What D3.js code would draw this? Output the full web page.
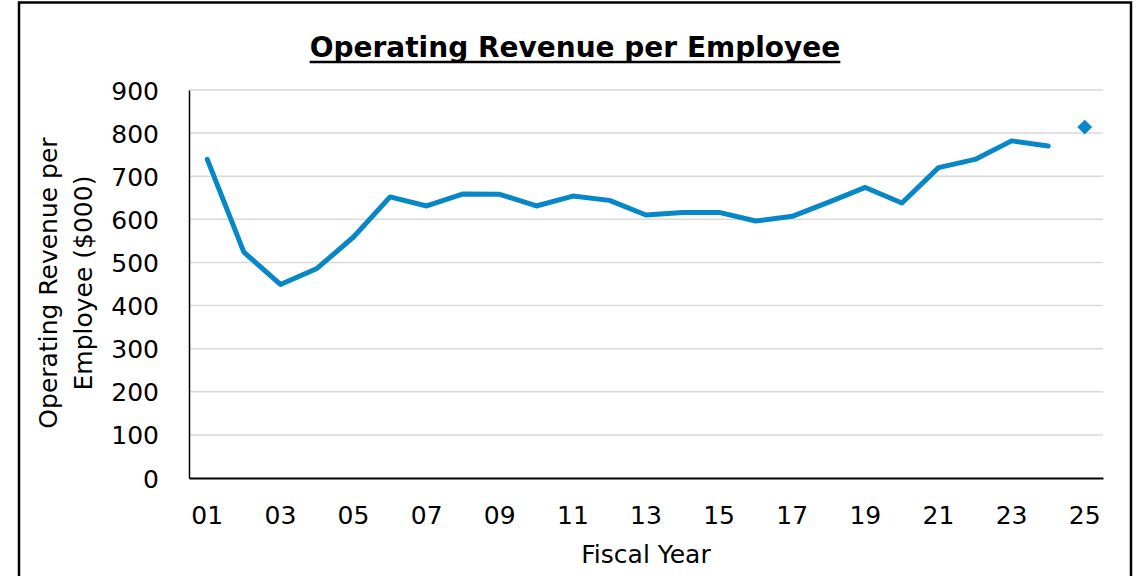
<!DOCTYPE html>
<html>
<head>
<meta charset="utf-8">
<script src="https://cdn.jsdelivr.net/npm/d3@7"></script>
<style>
  body { margin: 0; background: #fff; }
  text { font-family: "DejaVu Sans", "Liberation Sans", sans-serif; fill: #000; }
</style>
</head>
<body>
<div id="chart"></div>
<script>
// fiscal years (two-digit labels)
const years = ["01","02","03","04","05","06","07","08","09","10","11","12","13",
               "14","15","16","17","18","19","20","21","22","23","24","25"];
// operating revenue per employee ($000), actuals FY01..FY24
const actual = [739, 524, 449, 486, 559, 652, 631, 659, 658, 631, 654, 644, 610,
                616, 616, 596, 607, 640, 674, 638, 720, 739, 782, 770];
// FY25 projection (diamond marker)
const projected = [{year: "25", value: 814}];
const yTicks = [0, 100, 200, 300, 400, 500, 600, 700, 800, 900];
const xTickLabels = years.filter((d, i) => i % 2 === 0);

const width = 1145, height = 576;
const margin = {top: 90, right: 42, bottom: 98, left: 189};
const blue = "#0787c6";

const svg = d3.select("#chart").append("svg")
    .attr("width", width)
    .attr("height", height);

// outer frame
svg.append("rect")
    .attr("x", 19).attr("y", 2.5)
    .attr("width", 1112).attr("height", 600)
    .attr("fill", "none")
    .attr("stroke", "#000")
    .attr("stroke-width", 2.5);

const x = d3.scaleBand()
    .domain(years)
    .range([margin.left, width - margin.right]);

const y = d3.scaleLinear()
    .domain([0, 900])
    .range([height - margin.bottom, margin.top]);

// gridlines
svg.append("g")
  .selectAll("line")
  .data(yTicks.filter(d => d > 0))
  .join("line")
    .attr("x1", margin.left)
    .attr("x2", width - margin.right)
    .attr("y1", d => y(d))
    .attr("y2", d => y(d))
    .attr("stroke", "#d9d9d9")
    .attr("stroke-width", 1.5);

// y axis
const yAxis = svg.append("g")
    .attr("transform", `translate(${margin.left},0)`)
    .call(d3.axisLeft(y).tickValues(yTicks).tickSize(0).tickPadding(30));
yAxis.select(".domain").attr("stroke", "#000").attr("stroke-width", 1.5);
yAxis.selectAll("text").attr("font-size", 25).attr("font-family", null)
    .attr("dy", "0.36em");

// x axis
const xAxis = svg.append("g")
    .attr("transform", `translate(0,${height - margin.bottom})`)
    .call(d3.axisBottom(x).tickValues(xTickLabels).tickSize(0).tickPadding(28));
xAxis.select(".domain").attr("stroke", "#000").attr("stroke-width", 2);
xAxis.selectAll("text").attr("font-size", 25).attr("font-family", null);

// line
const cx = d => x(d) + x.bandwidth() / 2;
const line = d3.line()
    .x((d, i) => cx(years[i]))
    .y(d => y(d));

svg.append("path")
    .datum(actual)
    .attr("fill", "none")
    .attr("stroke", blue)
    .attr("stroke-width", 5)
    .attr("stroke-linejoin", "round")
    .attr("stroke-linecap", "round")
    .attr("d", line);

// projected point
svg.append("g")
  .selectAll("path")
  .data(projected)
  .join("path")
    .attr("d", d3.symbol(d3.symbolDiamond2, 140))
    .attr("transform", d => `translate(${cx(d.year)},${y(d.value)})`)
    .attr("fill", blue);

// title
const title = svg.append("text")
    .attr("x", 575).attr("y", 57)
    .attr("text-anchor", "middle")
    .attr("font-size", 28)
    .attr("font-weight", "bold")
    .text("Operating Revenue per Employee");
const tb = title.node().getBBox();
svg.append("line")
    .attr("x1", tb.x).attr("x2", tb.x + tb.width)
    .attr("y1", 62).attr("y2", 62)
    .attr("stroke", "#000").attr("stroke-width", 2.5);

// axis titles
svg.append("text")
    .attr("x", (margin.left + width - margin.right) / 2)
    .attr("y", 563)
    .attr("text-anchor", "middle")
    .attr("font-size", 25)
    .text("Fiscal Year");

const yt = svg.append("text")
    .attr("transform", "translate(0,283) rotate(-90)")
    .attr("text-anchor", "middle")
    .attr("font-size", 25);
yt.append("tspan").attr("x", 0).attr("y", 57).text("Operating Revenue per");
yt.append("tspan").attr("x", 0).attr("y", 92).text("Employee ($000)");
</script>
</body>
</html>
